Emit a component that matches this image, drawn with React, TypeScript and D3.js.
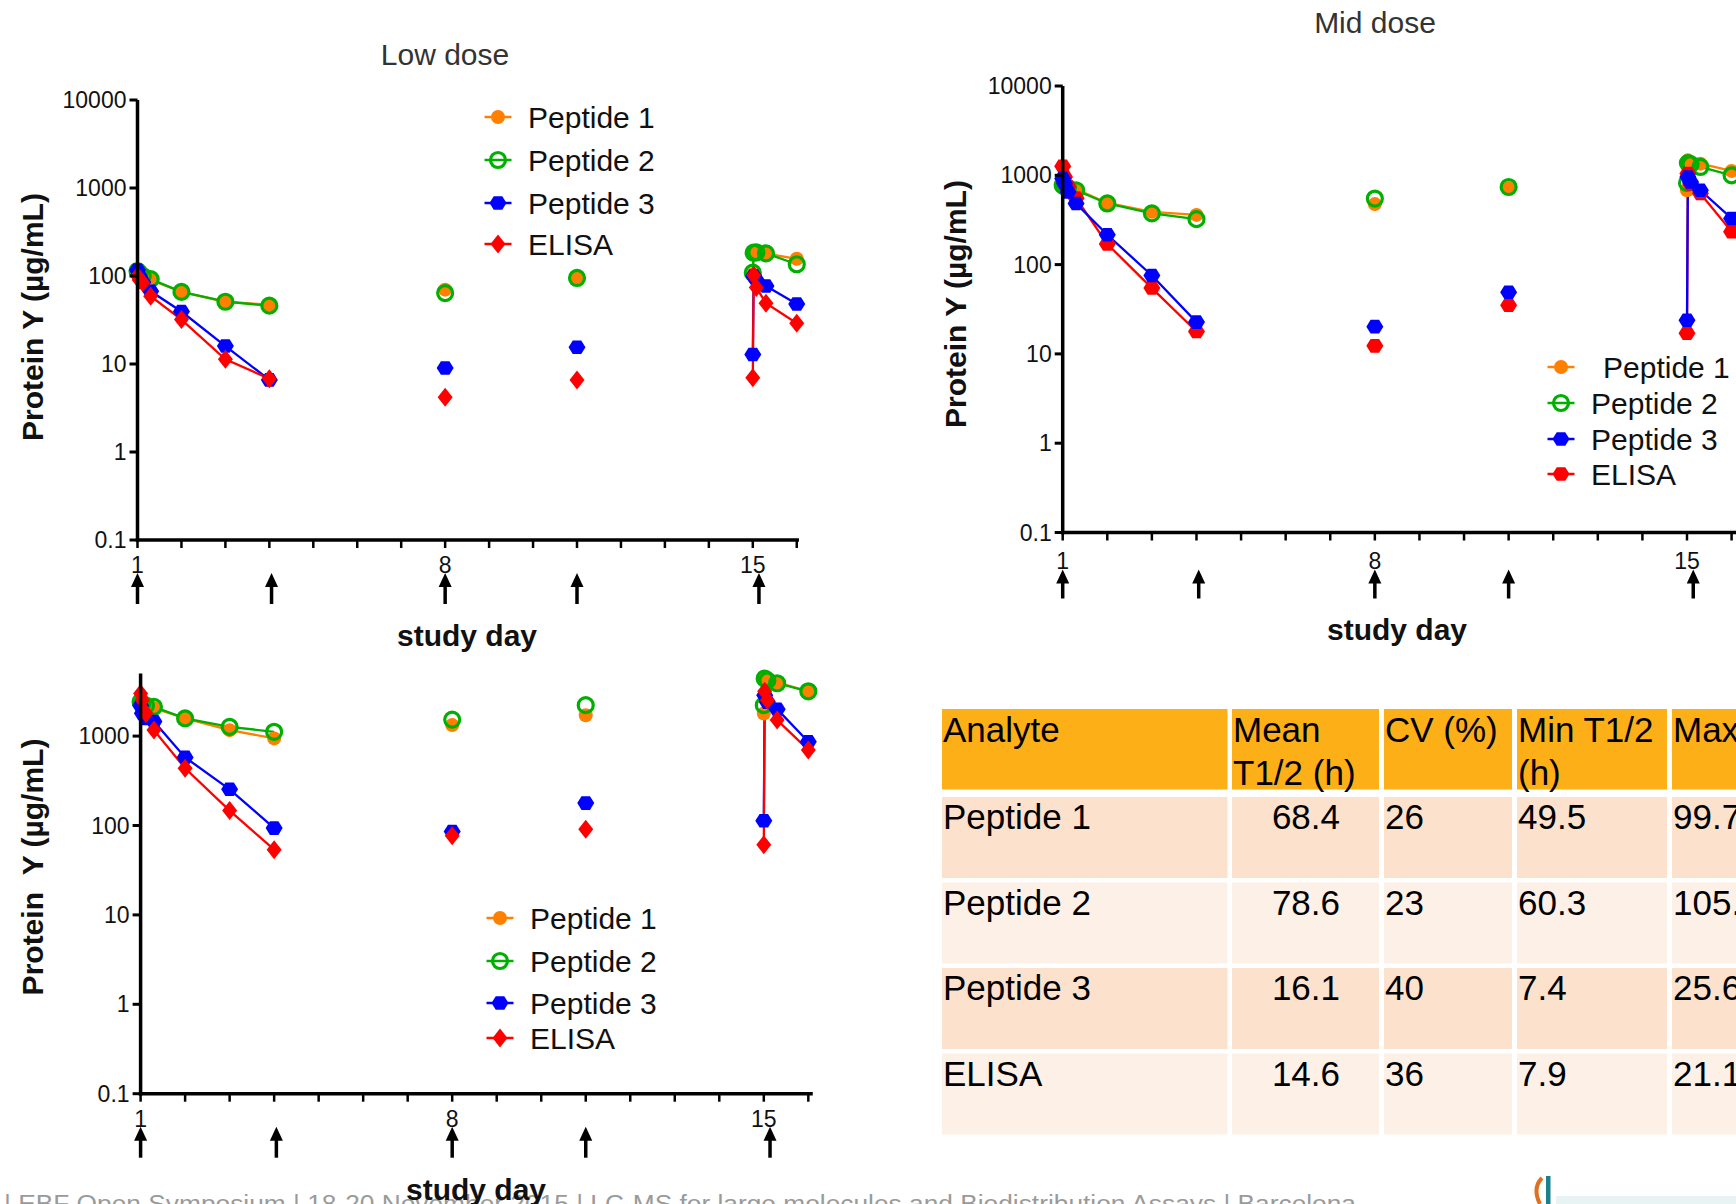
import React from "react";
import * as d3 from "d3";

// ---------------- data ----------------
const SAMPLE_DAYS = [1.0, 1.04, 1.12, 1.3, 2, 3, 4, 8, 11, 15.0, 15.02, 15.08, 15.3, 16];
const CONNECTED_RUNS = [[0, 6], [7, 7], [8, 8], [9, 13]];
const ARROW_DAYS = [1, 4.05, 8, 11, 15.14];
const X_MINOR_DAYS = [1, 2, 3, 4, 5, 6, 7, 8, 9, 10, 11, 12, 13, 14, 15, 16];
const X_LABEL_DAYS = [1, 8, 15];
const Y_TICK_VALUES = [0.1, 1, 10, 100, 1000, 10000];
const Y_TICK_LABELS = ["0.1", "1", "10", "100", "1000", "10000"];
const SERIES_NAMES = ["Peptide 1", "Peptide 2", "Peptide 3", "ELISA"];
const SERIES_COLORS = ["#FF8000", "#00B000", "#0000FF", "#FF0000"];

const LOW_PEPTIDE1 = [110, 104, 98, 90, 66, 51, 47, 70, 97, 105, 190, 188, 180, 157];
const LOW_PEPTIDE2 = [114, 108, 100, 92, 66, 51, 46, 64, 95, 109, 184, 186, 181, 136];
const LOW_PEPTIDE3 = [117, 100, 85, 67, 39.5, 16, 6.6, 9.0, 15.5, 12.8, 100, 90, 77, 48];
const LOW_ELISA = [100, 90, 84, 59, 32, 11.3, 6.8, 4.2, 6.6, 7.0, 102, 74, 49, 29];

const MID_PEPTIDE1 = [800, 770, 730, 700, 490, 390, 360, 476, 720, 680, 1470, 1420, 1350, 1120];
const MID_PEPTIDE2 = [774, 750, 720, 680, 484, 375, 323, 549, 740, 820, 1370, 1330, 1240, 1000];
const MID_PEPTIDE3 = [920, 808, 650, 484, 216, 75.5, 22.7, 20.2, 49, 23.8, 957, 843, 680, 329];
const MID_ELISA = [1260, 960, 750, 555, 170, 54.6, 17.8, 12.3, 35, 17, 1050, 800, 625, 234];

const HIGH_PEPTIDE1 = [2300, 2200, 2100, 2050, 1577, 1166, 942, 1327, 1710, 1790, 4500, 4200, 4000, 3170];
const HIGH_PEPTIDE2 = [2420, 2300, 2200, 2125, 1577, 1270, 1117, 1530, 2220, 2220, 4410, 4200, 3900, 3170];
const HIGH_PEPTIDE3 = [2200, 1800, 1577, 1456, 578, 254, 93.5, 85.7, 178, 113, 2870, 2400, 2000, 863];
const HIGH_ELISA = [3000, 2525, 1795, 1167, 436, 147, 53.6, 76.7, 91, 61, 3170, 2525, 1510, 700];

const TABLE_HEADERS = [["Analyte"], ["Mean", "T1/2 (h)"], ["CV (%)"], ["Min T1/2", "(h)"], ["Max T1/2 (h)"]];
const TABLE_ANALYTES = ["Peptide 1", "Peptide 2", "Peptide 3", "ELISA"];
const TABLE_MEAN_T12 = ["68.4", "78.6", "16.1", "14.6"];
const TABLE_CV = ["26", "23", "40", "36"];
const TABLE_MIN_T12 = ["49.5", "60.3", "7.4", "7.9"];
const TABLE_MAX_T12 = ["99.7", "105.", "25.6", "21.1"];

const FOOTER_TEXT =
  "| EBF Open Symposium | 18-20 November 2015 | LC-MS for large molecules and Biodistribution Assays | Barcelona";

// ---------------- layout ----------------
const FONT = "'Liberation Sans', Arial, Helvetica, sans-serif";

const PANELS = [
  {
    key: "low",
    values: [LOW_PEPTIDE1, LOW_PEPTIDE2, LOW_PEPTIDE3, LOW_ELISA],
    shapes: ["circle", "ring", "hex", "diamond"],
    order: [0, 1, 2, 3],
    x1: 137.5, x15: 752.8, xEnd: 16.05,
    y01: 540, y10k: 100, yMax: 10000,
    title: "Low dose", titleX: 445, titleY: 65,
    legendX: 498, legendYs: [117, 160, 203, 244], legendDx: [0, 0, 0, 0],
    yLabel: "Protein Y (\u00b5g/mL)", yLabelX: 43, yLabelY: 317,
    xLabelX: 467, xLabelY: 646,
    tickLabelDy: 33, arrowTop: 33, arrowBottom: 64,
  },
  {
    key: "mid",
    values: [MID_PEPTIDE1, MID_PEPTIDE2, MID_PEPTIDE3, MID_ELISA],
    shapes: ["circle", "ring", "hex", "hex"],
    order: [0, 1, 3, 2],
    x1: 1062.7, x15: 1687, xEnd: 16.2,
    y01: 532.5, y10k: 86, yMax: 10000,
    title: "Mid dose", titleX: 1375, titleY: 33,
    legendX: 1561, legendYs: [367, 403, 439, 474], legendDx: [12, 0, 0, 0],
    yLabel: "Protein Y (\u00b5g/mL)", yLabelX: 966, yLabelY: 304,
    xLabelX: 1397, xLabelY: 640,
    tickLabelDy: 36, arrowTop: 37, arrowBottom: 66,
  },
  {
    key: "high",
    values: [HIGH_PEPTIDE1, HIGH_PEPTIDE2, HIGH_PEPTIDE3, HIGH_ELISA],
    shapes: ["circle", "ring", "hex", "diamond"],
    order: [0, 1, 2, 3],
    x1: 140.6, x15: 763.8, xEnd: 16.1,
    y01: 1093.7, y10k: 646.7, yMax: 5000,
    title: "", titleX: 0, titleY: 0,
    legendX: 500, legendYs: [918, 961, 1003, 1038], legendDx: [0, 0, 0, 0],
    yLabel: "Protein\u00a0\u00a0Y (\u00b5g/mL)", yLabelX: 43, yLabelY: 867,
    xLabelX: 476, xLabelY: 1200,
    tickLabelDy: 33, arrowTop: 33, arrowBottom: 64,
  },
];

function hexPath(r: number) {
  const pts = [0, 1, 2, 3, 4, 5].map((i) => {
    const a = (Math.PI / 3) * i;
    return [r * Math.cos(a), r * Math.sin(a) * 0.92];
  });
  return "M" + pts.map((p) => p[0].toFixed(2) + "," + p[1].toFixed(2)).join("L") + "Z";
}
const HEX = hexPath(8.5);
const DIAMOND = "M0,-9.5L7.5,0L0,9.5L-7.5,0Z";

function Marker({ shape, color, cx, cy }: { shape: string; color: string; cx: number; cy: number }) {
  if (shape === "circle") return <circle cx={cx} cy={cy} r={7} fill={color} />;
  if (shape === "ring")
    return <circle cx={cx} cy={cy} r={7.5} fill="none" stroke={color} strokeWidth={3.2} />;
  if (shape === "hex") return <path d={HEX} transform={`translate(${cx},${cy})`} fill={color} />;
  return <path d={DIAMOND} transform={`translate(${cx},${cy})`} fill={color} />;
}

function Arrow({ x, top, bottom }: { x: number; top: number; bottom: number }) {
  return (
    <g>
      <line x1={x} x2={x} y1={top + 10} y2={bottom} stroke="#000" strokeWidth={3.5} />
      <path d={`M${x},${top}L${x - 6.5},${top + 14}L${x + 6.5},${top + 14}Z`} fill="#000" />
    </g>
  );
}

function Panel({ p }: { p: any }) {
  const x = d3.scaleLinear().domain([1, 15]).range([p.x1, p.x15]);
  const y = d3.scaleLog().domain([0.1, 10000]).range([p.y01, p.y10k]);
  const line = d3
    .line<[number, number]>()
    .x((d) => x(d[0]))
    .y((d) => y(d[1]));
  const axisY = p.y01;
  const yTicks = Y_TICK_VALUES.map((v, i) => ({ v, label: Y_TICK_LABELS[i] })).filter((t) => t.v <= p.yMax);

  return (
    <g>
      {p.title && (
        <text x={p.titleX} y={p.titleY} textAnchor="middle" fontSize={30} fill="#333" fontFamily={FONT}>
          {p.title}
        </text>
      )}
      {/* lines */}
      {p.order.map((si: number) =>
        CONNECTED_RUNS.filter((r) => r[1] > r[0]).map((r, ri) => {
          const pts: [number, number][] = [];
          for (let k = r[0]; k <= r[1]; k++) pts.push([SAMPLE_DAYS[k], p.values[si][k]]);
          return (
            <path
              key={`l${si}-${ri}`}
              d={line(pts) || ""}
              fill="none"
              stroke={SERIES_COLORS[si]}
              strokeWidth={2.3}
            />
          );
        })
      )}
      {/* markers */}
      {p.order.map((si: number) =>
        p.values[si].map((v: number, k: number) => (
          <Marker key={`m${si}-${k}`} shape={p.shapes[si]} color={SERIES_COLORS[si]} cx={x(SAMPLE_DAYS[k])} cy={y(v)} />
        ))
      )}
      {/* y axis */}
      <line x1={p.x1} x2={p.x1} y1={axisY + 1.75} y2={y(p.yMax)} stroke="#000" strokeWidth={3.5} />
      {yTicks.map((t) => (
        <g key={`yt${t.v}`}>
          <line x1={p.x1 - 8} x2={p.x1} y1={y(t.v)} y2={y(t.v)} stroke="#000" strokeWidth={3} />
          <text x={p.x1 - 11} y={y(t.v) + 8} textAnchor="end" fontSize={23} fontFamily={FONT} fill="#111">
            {t.label}
          </text>
        </g>
      ))}
      {/* x axis */}
      <line x1={p.x1 - 1.75} x2={x(p.xEnd)} y1={axisY} y2={axisY} stroke="#000" strokeWidth={3.5} />
      {X_MINOR_DAYS.map((d) => (
        <line key={`xt${d}`} x1={x(d)} x2={x(d)} y1={axisY} y2={axisY + 8} stroke="#000" strokeWidth={2.5} />
      ))}
      {X_LABEL_DAYS.map((d) => (
        <text key={`xl${d}`} x={x(d)} y={axisY + p.tickLabelDy} textAnchor="middle" fontSize={23} fontFamily={FONT} fill="#111">
          {d}
        </text>
      ))}
      {ARROW_DAYS.map((d) => (
        <Arrow key={`a${d}`} x={x(d)} top={axisY + p.arrowTop} bottom={axisY + p.arrowBottom} />
      ))}
      <text x={p.xLabelX} y={p.xLabelY} textAnchor="middle" fontSize={30} fontWeight="bold" fontFamily={FONT} fill="#111">
        study day
      </text>
      <text
        transform={`translate(${p.yLabelX},${p.yLabelY}) rotate(-90)`}
        textAnchor="middle"
        fontSize={30}
        fontWeight="bold"
        fontFamily={FONT}
        fill="#111"
      >
        {p.yLabel}
      </text>
      {/* legend */}
      {SERIES_NAMES.map((name, si) => {
        const ly = p.legendYs[si];
        return (
          <g key={`lg${si}`}>
            <line x1={p.legendX - 13.5} x2={p.legendX + 13.5} y1={ly} y2={ly} stroke={SERIES_COLORS[si]} strokeWidth={2.5} />
            <Marker shape={p.shapes[si]} color={SERIES_COLORS[si]} cx={p.legendX} cy={ly} />
            <text x={p.legendX + 30 + p.legendDx[si]} y={ly + 11} fontSize={30} fontFamily={FONT} fill="#111">
              {name}
            </text>
          </g>
        );
      })}
    </g>
  );
}

const COL_X = [942, 1232, 1384, 1517, 1672];
const COL_R = [1227.5, 1379, 1512, 1667, 1800];
const HEADER_TOP = 709;
const HEADER_H = 80.5;
const ROW_TOP = 797;
const ROW_PITCH = 85.5;
const ROW_H = 81;

function Table() {
  const body = [TABLE_ANALYTES, TABLE_MEAN_T12, TABLE_CV, TABLE_MIN_T12, TABLE_MAX_T12];
  return (
    <g fontFamily={FONT} fontSize={35} fill="#000">
      {COL_X.map((cx, ci) => (
        <rect key={`h${ci}`} x={cx} y={HEADER_TOP} width={COL_R[ci] - cx} height={HEADER_H} fill="#FDAF17" />
      ))}
      {TABLE_HEADERS.map((lines, ci) =>
        lines.map((t, li) => (
          <text key={`ht${ci}-${li}`} x={COL_X[ci] + 1} y={742 + li * 43}>
            {t}
          </text>
        ))
      )}
      {TABLE_ANALYTES.map((_, ri) =>
        COL_X.map((cx, ci) => (
          <rect
            key={`c${ri}-${ci}`}
            x={cx}
            y={ROW_TOP + ri * ROW_PITCH}
            width={COL_R[ci] - cx}
            height={ROW_H}
            fill={ri % 2 === 0 ? "#FCE2CD" : "#FDF0E6"}
          />
        ))
      )}
      {TABLE_ANALYTES.map((_, ri) =>
        body.map((col, ci) => (
          <text
            key={`t${ri}-${ci}`}
            x={ci === 1 ? 1340 : COL_X[ci] + 1}
            y={829 + ri * ROW_PITCH}
            textAnchor={ci === 1 ? "end" : "start"}
          >
            {col[ri]}
          </text>
        ))
      )}
    </g>
  );
}

export default function App() {
  return (
    <svg
      width={1736}
      height={1204}
      viewBox="0 0 1736 1204"
      style={{ position: "absolute", left: 0, top: 0, background: "#fff", display: "block" }}
    >
      <rect x={0} y={0} width={1736} height={1204} fill="#fff" />
      <text x={4} y={1212} fontSize={23} fontFamily={FONT} fill="#9a9a9a" textLength={1352} lengthAdjust="spacingAndGlyphs">
        {FOOTER_TEXT}
      </text>
      <path d="M1540,1204 C1534,1192 1536,1184 1542,1178" fill="none" stroke="#E07020" strokeWidth={4} />
      <rect x={1546} y={1176} width={4.5} height={28} fill="#1B7F8C" />
      <rect x={1556} y={1196} width={180} height={8} fill="#E8F4F4" />
      {PANELS.map((p) => (
        <Panel key={p.key} p={p} />
      ))}
      <Table />
    </svg>
  );
}
